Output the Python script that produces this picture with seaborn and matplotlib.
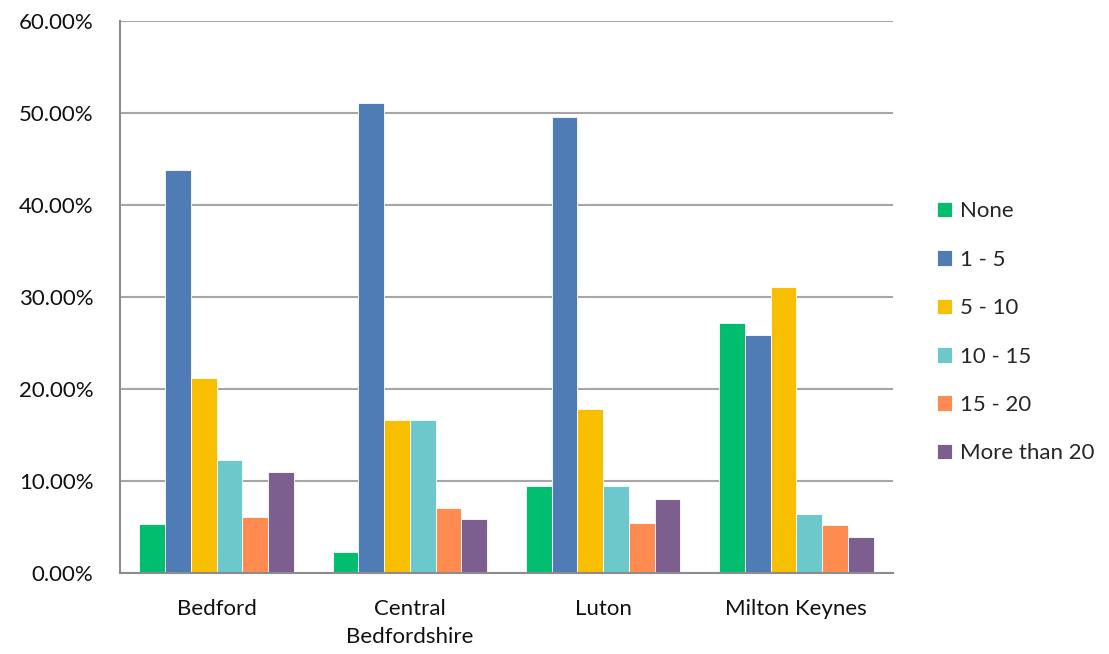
import matplotlib
matplotlib.use("Agg")
import matplotlib.pyplot as plt
from matplotlib.ticker import FixedLocator, PercentFormatter
import seaborn as sns
import pandas as pd

# Share of respondents by area and band
areas = ["Bedford", "Central\nBedfordshire", "Luton", "Milton Keynes"]
bands = ["None", "1 - 5", "5 - 10", "10 - 15", "15 - 20", "More than 20"]
none_vals = [5.3, 2.3, 9.4, 27.2]
b1_5 = [43.8, 51.1, 49.6, 25.9]
b5_10 = [21.2, 16.6, 17.8, 31.1]
b10_15 = [12.3, 16.6, 9.4, 6.4]
b15_20 = [6.1, 7.1, 5.4, 5.2]
b20_plus = [11.0, 5.9, 8.0, 3.9]
colors = ["#00BE6E", "#4F7CB5", "#F8BE00", "#6CC8CB", "#FF8B50", "#7D5F8F"]

series = [none_vals, b1_5, b5_10, b10_15, b15_20, b20_plus]
rows = []
for band, vals in zip(bands, series):
    for area, v in zip(areas, vals):
        rows.append({"area": area, "band": band, "value": v})
df = pd.DataFrame(rows)

sns.set_style("white")
plt.rcParams["font.family"] = ["Lato", "DejaVu Sans"]

fig = plt.figure(figsize=(11.09, 6.54), dpi=100)
ax = fig.add_axes([0.1082, 0.1239, 0.8052 - 0.1082, 0.968 - 0.1239])

sns.barplot(data=df, x="area", y="value", hue="band", order=areas,
            hue_order=bands, palette=colors, saturation=1, width=0.8,
            edgecolor="#ffffff", linewidth=0.6, ax=ax)

grey = "#8c8c8c"
ax.set_ylim(0, 60)
ax.set_xlim(-0.5, len(areas) - 0.5)
ax.yaxis.set_major_locator(FixedLocator([0, 10, 20, 30, 40, 50, 60]))
ax.yaxis.set_major_formatter(PercentFormatter(decimals=2))
ax.yaxis.grid(True, color="#a6a6a6", linewidth=1.5)
ax.set_axisbelow(True)

for side in ("top", "right"):
    ax.spines[side].set_visible(False)
for side in ("left", "bottom"):
    ax.spines[side].set_color(grey)
    ax.spines[side].set_linewidth(1.5)

fs = 16
ax.tick_params(axis="y", length=7, width=1.5, color=grey, labelsize=fs,
               labelcolor="#111111", pad=12)
ax.tick_params(axis="x", which="major", length=0, labelsize=fs,
               labelcolor="#111111", pad=19)
ax.set_xticks([i - 0.5 for i in range(len(areas) + 1)], minor=True)
ax.tick_params(axis="x", which="minor", length=7, width=1.5, color=grey)
for lab in ax.get_xticklabels():
    lab.set_linespacing(1.45)

ax.set_xlabel("")
ax.set_ylabel("")

handles, labels = ax.get_legend_handles_labels()
ax.legend(handles, labels, loc="center left", bbox_to_anchor=(1.045, 0.436),
          frameon=False, fontsize=fs, handlelength=0.7, handleheight=0.7,
          handletextpad=0.35, labelspacing=1.28, borderaxespad=0)

fig.savefig("out.png", dpi=100, facecolor="white")
